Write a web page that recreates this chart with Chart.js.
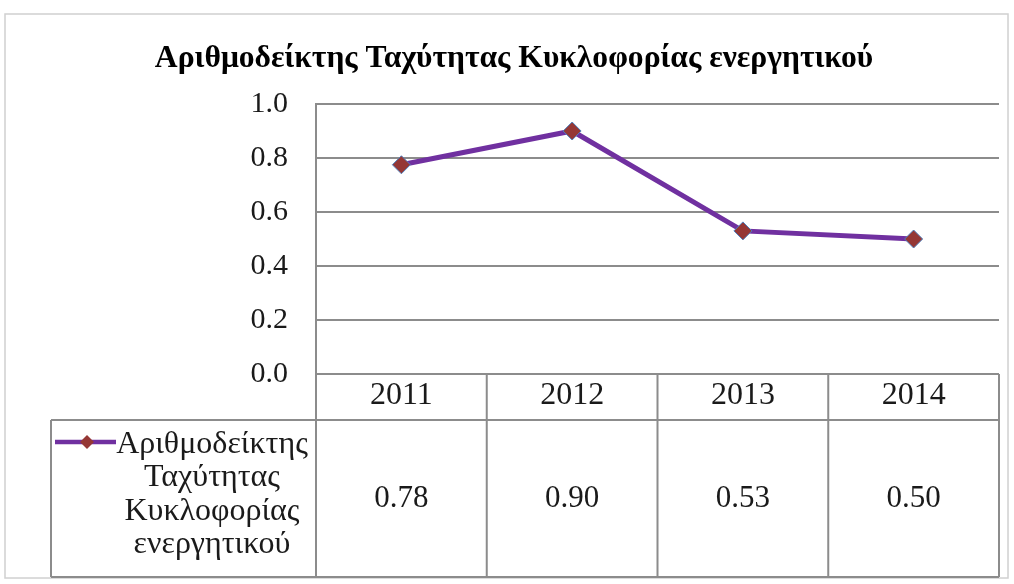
<!DOCTYPE html>
<html>
<head>
<meta charset="utf-8">
<script src="https://cdn.jsdelivr.net/npm/chart.js@4.4.1/dist/chart.umd.min.js"></script>
<style>
  html, body { margin: 0; padding: 0; background: #ffffff; }
  canvas { display: block; }
</style>
</head>
<body>
<canvas id="chartAKE" width="1014" height="584"></canvas>
<script>
// Données du graphique
const annees = ['2011', '2012', '2013', '2014'];
const valeurs = [0.775, 0.90, 0.53, 0.50];
const titreGraphique = 'Αριθμοδείκτης Ταχύτητας Κυκλοφορίας ενεργητικού';
const lignesLegende = ['Αριθμοδείκτης', 'Ταχύτητας', 'Κυκλοφορίας', 'ενεργητικού'];

const POLICE = "'Liberation Serif', 'Times New Roman', serif";
const GRIS = '#8c8c8c';
const VIOLET = '#7030A0';
const ROUGE = '#953735';

// Plugin : cadre, titre et tableau de données sous le graphique
const tableauDonnees = {
    id: 'tableauDonnees',
    afterDraw(chart) {
        const ctx = chart.ctx;
        const area = chart.chartArea;
        const xScale = chart.scales.x;
        const hautTableau = area.bottom;      // ligne 0.0
        const basEntete = 420;
        const basTableau = 577;
        const gaucheLegende = 51;

        ctx.save();

        // Cadre extérieur
        ctx.strokeStyle = '#d0d0d0';
        ctx.lineWidth = 1.5;
        ctx.strokeRect(5, 14, 1003, 564);

        // Titre
        ctx.fillStyle = '#000';
        ctx.font = 'bold 31.6px ' + POLICE;
        ctx.textAlign = 'center';
        ctx.textBaseline = 'alphabetic';
        ctx.fillText(titreGraphique, 514, 67);

        // Lignes du tableau
        ctx.strokeStyle = GRIS;
        ctx.lineWidth = 2;
        ctx.beginPath();
        ctx.moveTo(area.left, hautTableau);
        ctx.lineTo(area.right, hautTableau);
        ctx.moveTo(gaucheLegende, basEntete);
        ctx.lineTo(area.right, basEntete);
        ctx.moveTo(gaucheLegende, basTableau);
        ctx.lineTo(area.right, basTableau);
        ctx.moveTo(gaucheLegende, basEntete);
        ctx.lineTo(gaucheLegende, basTableau);
        ctx.moveTo(area.left, area.top);
        ctx.lineTo(area.left, basTableau);
        ctx.moveTo(area.right, hautTableau);
        ctx.lineTo(area.right, basTableau);
        for (let i = 0; i < annees.length - 1; i++) {
            const xb = (xScale.getPixelForTick(i) + xScale.getPixelForTick(i + 1)) / 2;
            ctx.moveTo(xb, hautTableau);
            ctx.lineTo(xb, basTableau);
        }
        ctx.stroke();

        // Valeurs
        ctx.fillStyle = '#1a1a1a';
        ctx.font = '31px ' + POLICE;
        ctx.textBaseline = 'middle';
        valeurs.forEach((v, i) => {
            ctx.fillText(v.toFixed(2), xScale.getPixelForValue(i), 499);
        });

        // Légende : trait + losange
        const yl = 442;
        ctx.strokeStyle = VIOLET;
        ctx.lineWidth = 4.5;
        ctx.beginPath();
        ctx.moveTo(55, yl);
        ctx.lineTo(116, yl);
        ctx.stroke();
        ctx.fillStyle = ROUGE;
        ctx.beginPath();
        ctx.moveTo(87, yl - 7);
        ctx.lineTo(94, yl);
        ctx.lineTo(87, yl + 7);
        ctx.lineTo(80, yl);
        ctx.closePath();
        ctx.fill();

        // Légende : texte
        ctx.fillStyle = '#1a1a1a';
        ctx.font = '32px ' + POLICE;
        ctx.textBaseline = 'alphabetic';
        lignesLegende.forEach((l, i) => {
            ctx.fillText(l, 212, 453 + i * 33.3);
        });

        ctx.restore();
    }
};

const canvas = document.getElementById('chartAKE');

new Chart(canvas, {
    type: 'line',
    data: {
        labels: annees,
        datasets: [{
            label: titreGraphique,
            data: valeurs,
            borderColor: VIOLET,
            borderWidth: 5,
            tension: 0,
            pointStyle: 'rectRot',
            pointRadius: 9,
            pointHoverRadius: 9,
            pointBackgroundColor: ROUGE,
            pointBorderColor: '#4F81BD',
            pointBorderWidth: 1
        }]
    },
    options: {
        responsive: false,
        animation: false,
        layout: {
            padding: { left: 0, right: 15, top: 104, bottom: 165 }
        },
        plugins: {
            legend: { display: false },
            title: { display: false },
            tooltip: { enabled: false }
        },
        scales: {
            y: {
                min: 0,
                max: 1,
                ticks: {
                    stepSize: 0.2,
                    padding: 28,
                    color: '#1a1a1a',
                    font: { family: POLICE, size: 30 },
                    callback: v => v.toFixed(1)
                },
                grid: { color: GRIS, lineWidth: 2, drawTicks: false },
                border: { display: true, color: GRIS, width: 2 },
                afterFit(scale) { scale.width = 316; }
            },
            x: {
                offset: true,
                ticks: {
                    padding: 2,
                    color: '#1a1a1a',
                    font: { family: POLICE, size: 32 }
                },
                grid: { display: false, drawTicks: false },
                border: { display: false },
                afterFit(scale) { scale.height = 45; }
            }
        }
    },
    plugins: [tableauDonnees]
});
</script>
</body>
</html>
